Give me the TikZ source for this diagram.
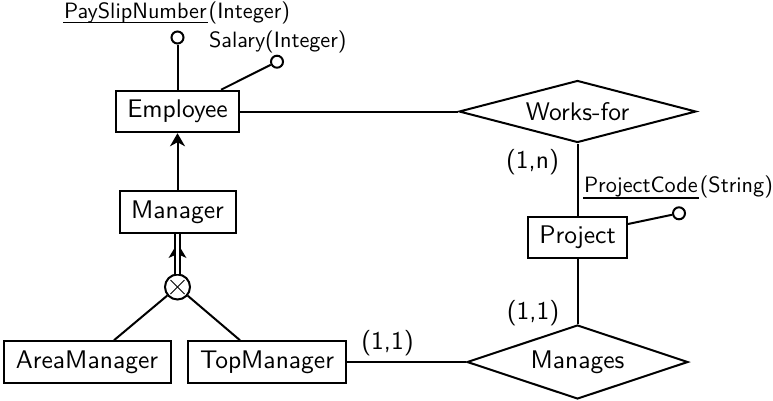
\documentclass[tikz,border=0pt]{standalone}
\usepackage{graphicx}
\usetikzlibrary{shapes.geometric,arrows.meta,calc}
\newcommand{\mlbl}[1]{\scalebox{2.55}{\sffamily #1}}
\newcommand{\albl}[1]{\scalebox{2.22}{\sffamily #1}}
\begin{document}
\begin{tikzpicture}[x=1pt,y=-1pt,line width=2pt,
  entity/.style={draw,rectangle,inner sep=0pt,minimum height=41.5pt},
  rel/.style={draw,diamond,aspect=3.8,inner sep=0pt},
  attrc/.style={draw,circle,fill=white,minimum size=12pt,inner sep=0pt},
  isacirc/.style={draw,circle,minimum size=25pt,inner sep=0pt},
  lbl/.style={inner sep=0pt},
  ul/.style={line width=1.3pt}]
\useasboundingbox (0,0) rectangle (773,400);

% entities
\node[entity,minimum width=123pt] (emp) at (177.5,111.5) {\mlbl{Employee}};
\node[entity,minimum width=116pt] (mgr) at (177.5,212) {\mlbl{Manager}};
\node[entity,minimum width=167pt] (am) at (87,362) {\mlbl{AreaManager}};
\node[entity,minimum width=158pt] (tm) at (267,362) {\mlbl{TopManager}};
\node[entity,minimum width=99pt] (proj) at (577.5,237.5) {\mlbl{Project}};

% relationships
\node[rel,minimum width=237pt,minimum height=62pt] (wf) at (577.5,111.5) {\mlbl{Works-for}};
\node[rel,minimum width=221pt,minimum height=74pt] (man) at (577.5,362) {\mlbl{Manages}};

% isa circle
\node[isacirc] (isa) at (177.5,287) {};
\draw[line width=1pt] ($(isa.center)+(-7,-7)$) -- ($(isa.center)+(7,7)$);
\draw[line width=1pt] ($(isa.center)+(-7,7)$) -- ($(isa.center)+(7,-7)$);

% relationship connectors
\draw (emp) -- (wf);
\draw (wf) -- (proj);
\draw (proj) -- (man);
\draw (tm) -- (man);

% generalisation
\draw[-{Stealth[length=13pt,width=15pt,inset=4pt]}] (mgr) -- (emp);
\coordinate (amtop) at ($(am.north)+(27,0)$);
\coordinate (tmtop) at ($(tm.north)+(-27,0)$);
\draw (isa) -- (amtop);
\draw (isa) -- (tmtop);
\coordinate (isatip) at (177.5,243);
\fill (isatip) -- ++(-9,15) -- ++(9,-4) -- ++(9,4) -- cycle;
\draw[double,double distance=3.6pt,line width=1.4pt] (isa) -- (mgr);

% attributes
\node[attrc] (psnc) at (177.5,37.5) {};
\draw (psnc) -- (emp);
\node[lbl,anchor=base west] (psn) at (63,18.5) {\albl{PaySlipNumber}};
\node[lbl,anchor=base west] (psnt) at (psn.base east) {\albl{(Integer)}};
\draw[ul] ($(psn.base west)+(0,4.2)$) -- ($(psn.base east)+(0,4.2)$);

\node[attrc] (salc) at (277,61.7) {};
\coordinate (salfoot) at ($(emp.north)+(43.5,0)$);
\draw (salc) -- (salfoot);
\node[lbl,anchor=base west] (sal) at (208,47.3) {\albl{Salary(Integer)}};

\node[attrc] (pcc) at (679,213.3) {};
\coordinate (pcfoot) at ($(proj.east)+(0,-13.5)$);
\draw (pcc) -- (pcfoot);
\node[lbl,anchor=base west] (pc) at (583,192) {\albl{ProjectCode}};
\node[lbl,anchor=base west] (pct) at (pc.base east) {\albl{(String)}};
\draw[ul] ($(pc.base west)+(0,6)$) -- ($(pc.base east)+(0,6)$);

% cardinalities
\node[lbl] (l1n) at (532.5,162.5) {\mlbl{(1,n)}};
\node[lbl] (l11a) at (533,313.5) {\mlbl{(1,1)}};
\node[lbl] (l11b) at (387.5,343.5) {\mlbl{(1,1)}};
\end{tikzpicture}
\end{document}
